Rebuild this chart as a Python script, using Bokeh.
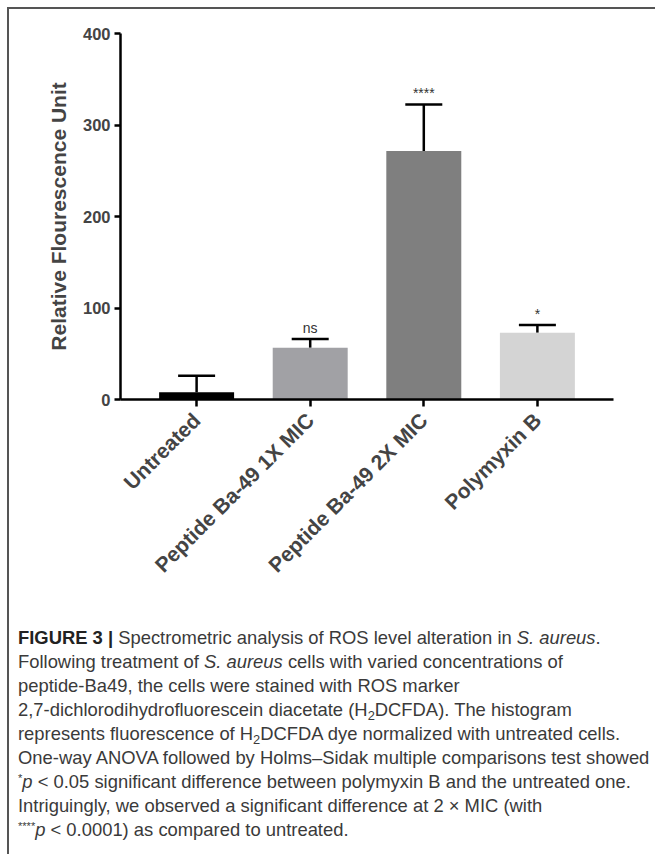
import math
from bokeh.plotting import figure
from bokeh.layouts import column, row
from bokeh.models import (ColumnDataSource, FactorRange, Range1d, FixedTicker,
                          Whisker, TeeHead, Div, Spacer)
from bokeh.core.properties import value
from bokeh.embed import file_html
from bokeh.resources import INLINE

# ---- data ----
categories = ["Untreated", "Peptide Ba-49 1X MIC", "Peptide Ba-49 2X MIC", "Polymyxin B"]
means = [8, 56.5, 271.5, 73]
errors = [18, 9.5, 51, 8.5]
bar_colors = ["#000000", "#a1a1a5", "#7f7f7f", "#d4d4d4"]
significance = ["", "ns", "****", "*"]
y_ticks = [0, 100, 200, 300, 400]
y_label = "Relative Flourescence Unit"

SUB = "<span style='font-size:0.7em;position:relative;top:0.3em;line-height:0'>{}</span>"
SUP = "<span style='font-size:0.6em;position:relative;top:-0.5em;line-height:0'>{}</span>"

caption_lines = [
    "<b style='color:#222'>FIGURE 3 |</b> Spectrometric analysis of ROS level alteration in <i>S. aureus</i>.",
    "Following treatment of <i>S. aureus</i> cells with varied concentrations of",
    "peptide-Ba49, the cells were stained with ROS marker",
    "2,7-dichlorodihydrofluorescein diacetate (H" + SUB.format("2") + "DCFDA). The histogram",
    "represents fluorescence of H" + SUB.format("2") + "DCFDA dye normalized with untreated cells.",
    "One-way ANOVA followed by Holms\u2013Sidak multiple comparisons test showed",
    SUP.format("*") + "<i>p</i> &lt; 0.05 significant difference between polymyxin B and the untreated one.",
    "Intriguingly, we observed a significant difference at 2 \u00d7 MIC (with",
    SUP.format("****") + "<i>p</i> &lt; 0.0001) as compared to untreated.",
]

upper = [m + e for m, e in zip(means, errors)]
src = ColumnDataSource(dict(cat=categories, mean=means, hi=upper,
                            color=bar_colors, sig=significance))

FONT = "Liberation Sans"

p = figure(
    width=645, height=610,
    x_range=FactorRange(factors=categories, range_padding=0.17,
                        range_padding_units="absolute"),
    y_range=Range1d(0, 400),
    output_backend="svg", toolbar_location=None, tools="",
    min_border_left=111, min_border_top=24, min_border_right=41,
    min_border_bottom=220, margin=0,
)
p.outline_line_color = None
p.xgrid.grid_line_color = None
p.ygrid.grid_line_color = None
p.background_fill_color = "white"
p.border_fill_color = "white"

p.vbar(x="cat", top="mean", bottom=0, width=0.66, fill_color="color",
       line_color=None, source=src)

whisk = Whisker(base="cat", lower="mean", upper="hi", source=src,
                dimension="height", line_color="black", line_width=2.5,
                upper_head=TeeHead(size=37, line_width=2.5, line_color="black"),
                lower_head=None)
p.add_layout(whisk)

p.text(x="cat", y="hi", text="sig", source=src, text_align="center",
       text_baseline="bottom", y_offset=-3, text_font_size="14px",
       text_font=value(FONT), text_color="#333333")

# y axis
ya = p.yaxis[0]
ya.ticker = FixedTicker(ticks=y_ticks)
ya.axis_label = y_label
ya.axis_label_text_font = FONT
ya.axis_label_text_font_style = "bold"
ya.axis_label_text_font_size = "21px"
ya.axis_label_standoff = 10
ya.major_label_text_font = FONT
ya.major_label_text_font_style = "bold"
ya.major_label_text_font_size = "16.5px"
ya.major_label_standoff = 4
ya.axis_line_width = 2.5
ya.major_tick_line_width = 2.5
ya.major_tick_out = 6
ya.major_tick_in = 0
ya.minor_tick_line_color = None

# x axis
xa = p.xaxis[0]
xa.major_label_orientation = math.pi / 4
xa.major_label_text_font = FONT
xa.major_label_text_font_style = "bold"
xa.major_label_text_font_size = "21px"
xa.major_label_standoff = 10
xa.axis_line_width = 2.5
xa.major_tick_line_width = 2.5
xa.major_tick_out = 7
xa.major_tick_in = 0

caption = Div(
    text="<br>".join(caption_lines),
    width=645, height=228, margin=0,
    styles={
        "font-family": "'Liberation Sans', Arial, sans-serif",
        "font-size": "18.4px",
        "line-height": "24px",
        "color": "#3a3a3a",
        "padding-left": "9px",
        "padding-top": "7px",
        "white-space": "nowrap",
    },
)

top_line = Div(text="", width=648, height=2, margin=0,
               styles={"background-color": "#555555"})
left_line = Div(text="", width=2, height=845, margin=0,
                styles={"background-color": "#555555"})

layout = column(
    Spacer(height=7, margin=0),
    row(Spacer(width=7, margin=0),
        column(top_line,
               row(left_line, column(p, caption, spacing=0, margin=0),
                   spacing=0, margin=0),
               spacing=0, margin=0),
        spacing=0, margin=0),
    spacing=0, margin=0,
)

open("out.html", "w").write(file_html(layout, INLINE))
